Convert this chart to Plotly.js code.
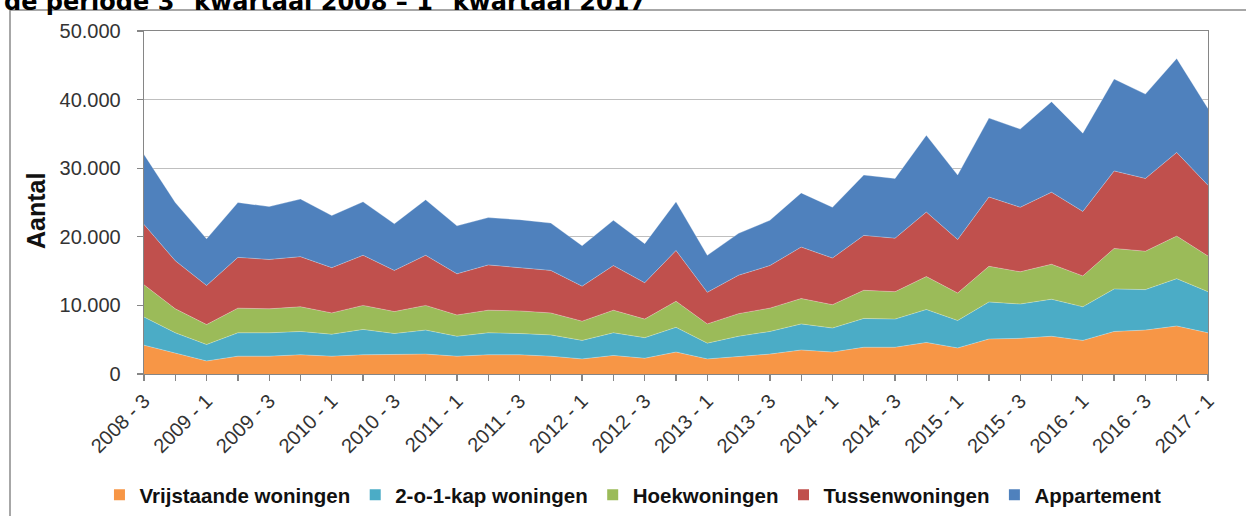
<!DOCTYPE html>
<html>
<head>
<meta charset="utf-8">
<script src="https://cdn.plot.ly/plotly-3.0.1.min.js"></script>
<style>
html,body{margin:0;padding:0;background:#fff;}
#chart{width:1246px;height:516px;}
</style>
</head>
<body>
<div id="chart"></div>
<script>
const quarters = ["2008 - 3","2008 - 4","2009 - 1","2009 - 2","2009 - 3","2009 - 4","2010 - 1","2010 - 2","2010 - 3","2010 - 4","2011 - 1","2011 - 2","2011 - 3","2011 - 4","2012 - 1","2012 - 2","2012 - 3","2012 - 4","2013 - 1","2013 - 2","2013 - 3","2013 - 4","2014 - 1","2014 - 2","2014 - 3","2014 - 4","2015 - 1","2015 - 2","2015 - 3","2015 - 4","2016 - 1","2016 - 2","2016 - 3","2016 - 4","2017 - 1"];
const tickLabels = ["2008 - 3","","2009 - 1","","2009 - 3","","2010 - 1","","2010 - 3","","2011 - 1","","2011 - 3","","2012 - 1","","2012 - 3","","2013 - 1","","2013 - 3","","2014 - 1","","2014 - 3","","2015 - 1","","2015 - 3","","2016 - 1","","2016 - 3","","2017 - 1"];

const vrijstaande = [4200,3000,1900,2600,2600,2800,2600,2800,2800,2900,2600,2800,2800,2600,2200,2700,2300,3200,2200,2600,2900,3500,3200,3900,3900,4600,3800,5100,5200,5500,4900,6200,6400,7000,6000];
const tweeOnderEenKap = [4100,3000,2400,3400,3400,3400,3200,3700,3100,3500,2900,3200,3100,3100,2700,3300,3000,3600,2300,2900,3300,3800,3500,4200,4100,4800,4000,5400,5000,5400,4900,6200,5900,6900,6000];
const hoekwoningen = [4700,3500,2900,3600,3500,3600,3100,3500,3200,3600,3100,3300,3300,3200,2800,3300,2700,3800,2800,3300,3400,3700,3400,4100,4000,4800,4000,5200,4700,5100,4500,5900,5600,6200,5200];
const tussenwoningen = [8800,7000,5700,7400,7200,7300,6600,7300,6000,7300,6000,6600,6300,6200,5100,6500,5300,7400,4600,5600,6200,7500,6800,8000,7800,9400,7800,10100,9400,10500,9400,11300,10600,12200,10300];
const appartement = [10200,8500,6800,8000,7700,8400,7600,7800,6800,8100,7000,6900,7000,6900,5900,6600,5700,7100,5400,6100,6600,7900,7400,8800,8700,11200,9400,11500,11400,13200,11400,13400,12300,13700,11200];

const seriesNames = ["Vrijstaande woningen","2-o-1-kap woningen","Hoekwoningen","Tussenwoningen","Appartement"];
const seriesColors = ["#F79646","#4BACC6","#9BBB59","#C0504D","#4F81BD"];
const seriesValues = [vrijstaande, tweeOnderEenKap, hoekwoningen, tussenwoningen, appartement];

const traces = [];
seriesValues.forEach((vals, i) => {
  traces.push({
    type: 'scatter', mode: 'lines', x: quarters, y: vals,
    stackgroup: 'one', name: seriesNames[i], showlegend: false,
    fillcolor: seriesColors[i],
    line: {color: 'rgba(255,255,255,0.35)', width: 0.8},
    hoverinfo: 'x+y+name'
  });
});
seriesNames.forEach((n, i) => {
  traces.push({
    type: 'scatter', mode: 'markers', x: [null], y: [null], name: n,
    marker: {symbol: 'square', size: 11, color: seriesColors[i]},
    showlegend: true, hoverinfo: 'skip'
  });
});

const L = 144, R = 1208, T = 31, B = 374;
const pw = R - L, ph = B - T;
const px = v => (v - L) / pw;
const py = v => (B - v) / ph;

const layout = {
  width: 1246, height: 516,
  margin: {l: L, r: 1246 - R, t: T, b: 516 - B, pad: 0},
  paper_bgcolor: '#ffffff', plot_bgcolor: '#ffffff',
  separators: ',.',
  font: {family: 'Liberation Sans, Arial, sans-serif', color: '#333333'},
  xaxis: {
    type: 'category', range: [0, quarters.length - 1],
    tickmode: 'array', tickvals: quarters, ticktext: tickLabels,
    tickangle: -45, ticks: 'outside', ticklen: 6, tickcolor: '#868686', tickwidth: 1.3,
    tickfont: {size: 20, color: '#333333'},
    showline: true, linecolor: '#868686', linewidth: 1.3, mirror: true,
    showgrid: false, zeroline: false, automargin: false, fixedrange: true
  },
  yaxis: {
    range: [0, 50000], dtick: 10000, tickformat: ',d',
    ticks: 'outside', ticklen: 6, tickcolor: '#868686', tickwidth: 1.3,
    tickfont: {size: 20, color: '#333333'}, ticklabelstandoff: 12,
    showline: true, linecolor: '#868686', linewidth: 1.3, mirror: true,
    showgrid: true, gridcolor: '#BFBFBF', gridwidth: 1.3, zeroline: false,
    automargin: false, fixedrange: true
  },
  legend: {
    orientation: 'h', xref: 'container', yref: 'container',
    x: 0.508, xanchor: 'center', y: 0.041, yanchor: 'middle',
    font: {size: 20.5, color: '#111111', family: 'Liberation Sans, Arial, sans-serif', weight: 'bold'},
    bgcolor: 'rgba(0,0,0,0)', itemclick: false, itemdoubleclick: false,
    traceorder: 'normal', itemwidth: 30
  },
  annotations: [{
    xref: 'paper', yref: 'paper', x: px(2), y: py(0), xanchor: 'left', yanchor: 'middle',
    text: 'de periode 3<sup>e</sup> kwartaal 2008 – 1<sup>e</sup> kwartaal 2017',
    showarrow: false,
    font: {family: 'DejaVu Sans, Verdana, sans-serif', size: 24, color: '#000000', weight: 'bold'}
  }, {
    xref: 'paper', yref: 'paper', x: px(36), y: py(211), xanchor: 'center', yanchor: 'middle',
    text: 'Aantal', textangle: -90, showarrow: false,
    font: {family: 'Liberation Sans, Arial, sans-serif', size: 25, color: '#111111', weight: 'bold'}
  }],
  shapes: [
    {type: 'line', xref: 'paper', yref: 'paper', x0: px(10), x1: px(1260), y0: py(10), y1: py(10), line: {color: '#8a8a8a', width: 1.5}},
    {type: 'line', xref: 'paper', yref: 'paper', x0: px(10), x1: px(10), y0: py(10), y1: py(530), line: {color: '#8a8a8a', width: 1.5}}
  ],
  showlegend: true
};

Plotly.newPlot('chart', traces, layout, {displayModeBar: false, staticPlot: true});
</script>
</body>
</html>
